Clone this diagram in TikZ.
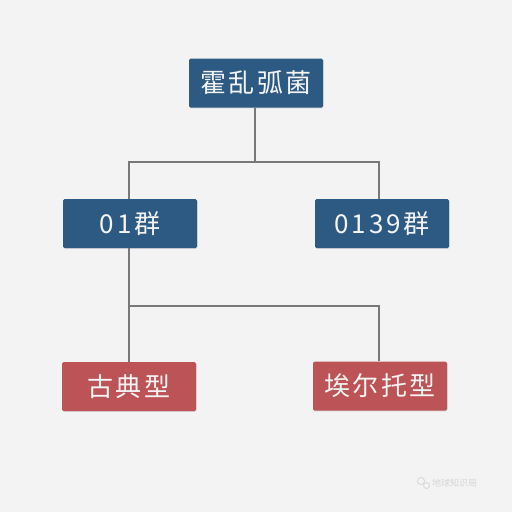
\documentclass[tikz,border=0pt]{standalone}
\usepackage{fontspec}
\newfontfamily\cjk[LetterSpace=10]{Noto Sans CJK SC}
\newfontfamily\cjkmark{Noto Sans CJK SC}
\usetikzlibrary{shadows}
\definecolor{bg}{HTML}{F3F3F3}
\definecolor{bluebox}{HTML}{2D5A82}
\definecolor{redbox}{HTML}{BC5457}
\definecolor{linegray}{HTML}{787878}
\definecolor{txt}{HTML}{F4F4F4}
\definecolor{wm}{HTML}{D6D6D6}
\tikzset{
  box/.style={rectangle, rounded corners=1.5pt, minimum width=134pt, minimum height=49pt,
    inner sep=0pt, text=txt, font=\cjk\fontsize{26}{30}\selectfont,
    drop shadow={shadow xshift=0.6pt, shadow yshift=-0.8pt, opacity=0.25}},
  bluenode/.style={box, fill=bluebox},
  rednode/.style={box, fill=redbox},
  conn/.style={draw=linegray, line width=2pt}
}
\begin{document}
\begin{tikzpicture}[x=1pt,y=-1pt]
\fill[bg] (0,0) rectangle (512,512);
\useasboundingbox (0,0) rectangle (512,512);
\node[bluenode] (root) at (256,83) {霍乱弧菌};
\node[bluenode] (o1) at (130,223.5) {01群};
\node[bluenode] (o139) at (382,223.5) {0139群};
\node[rednode] (classic) at (129,386.5) {古典型};
\node[rednode] (eltor) at (380,386) {埃尔托型};
\coordinate (j1) at (255,162);
\coordinate (j2) at (129,306);
\draw[conn] (root.south -| j1) -- (j1) -| (o1.north -| 129,0);
\draw[conn] (j1) -| (o139.north -| 379,0);
\draw[conn] (o1.south -| j2) -- (j2) -| (classic.north -| j2);
\draw[conn] (j2) -| (eltor.north -| 379,0);
\node[text=wm, font=\cjkmark\fontsize{9}{10}\selectfont, anchor=west, inner sep=0pt] (mark) at (432,483) {地球知识局};
\draw[wm, line width=0.8pt] (421,481) circle (3.6pt);
\draw[wm, line width=0.8pt] (426.5,485.5) circle (3pt);
\end{tikzpicture}
\end{document}
